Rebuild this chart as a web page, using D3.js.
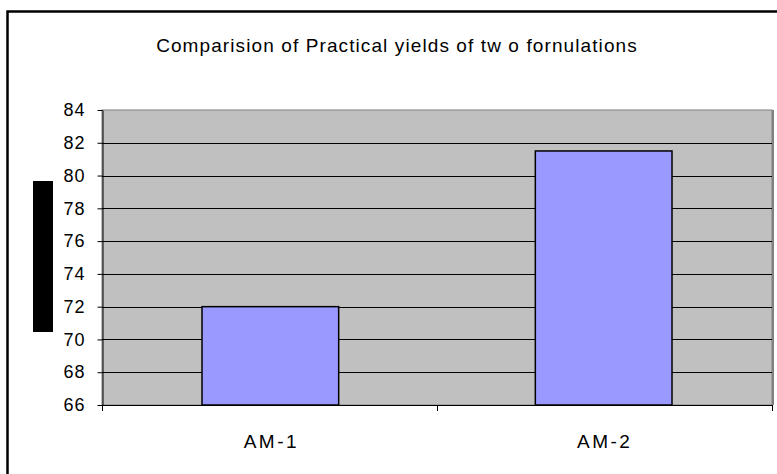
<!DOCTYPE html>
<html>
<head>
<meta charset="utf-8">
<script src="https://cdn.jsdelivr.net/npm/d3@7"></script>
<style>
  html, body { margin: 0; background: #fff; overflow: hidden; }
  svg { display: block; }
  text { font-family: "Liberation Sans", Arial, sans-serif; fill: #000; }
</style>
</head>
<body>
<svg id="chart" width="777" height="474"></svg>
<script>
// Practical yield (%) of the two formulations
const categories = ["AM-1", "AM-2"];
const yields = [72, 81.5];
const yTicks = [66, 68, 70, 72, 74, 76, 78, 80, 82, 84];
const chartTitle = "Comparision of Practical yields of tw o fornulations";

const svg = d3.select("#chart");
const plot = { left: 102, right: 772, top: 110, bottom: 405 };

// chart frame: left and top edges (the rest lies outside the page)
svg.append("path")
  .attr("d", "M7.5,474 L7.5,11.5 L777,11.5")
  .attr("fill", "none").attr("stroke", "#000").attr("stroke-width", 2.5);

const x = d3.scaleBand()
  .domain(categories)
  .range([plot.left, plot.right])
  .paddingInner(0.59)
  .paddingOuter(0.3);

const y = d3.scaleLinear()
  .domain([yTicks[0], yTicks[yTicks.length - 1]])
  .range([plot.bottom, plot.top]);

// plot area background
svg.append("rect")
  .attr("x", plot.left).attr("y", plot.top)
  .attr("width", plot.right - plot.left).attr("height", plot.bottom - plot.top)
  .attr("fill", "#c0c0c0").attr("stroke", "#808080").attr("stroke-width", 1);

// horizontal gridlines
svg.append("g")
  .selectAll("line")
  .data(yTicks.slice(1, -1))
  .join("line")
  .attr("x1", plot.left).attr("x2", plot.right)
  .attr("y1", d => Math.round(y(d)) + 0.5).attr("y2", d => Math.round(y(d)) + 0.5)
  .attr("stroke", "#000").attr("stroke-width", 1);

// right edge shading of plot area
svg.append("line")
  .attr("x1", plot.right + 1).attr("x2", plot.right + 1)
  .attr("y1", plot.top).attr("y2", plot.bottom)
  .attr("stroke", "#808080").attr("stroke-width", 2);

// bars
svg.append("g")
  .selectAll("rect")
  .data(categories.map((c, i) => ({ c, v: yields[i] })))
  .join("rect")
  .attr("x", d => x(d.c))
  .attr("y", d => y(d.v))
  .attr("width", x.bandwidth())
  .attr("height", d => y(yTicks[0]) - y(d.v))
  .attr("fill", "#9999ff")
  .attr("stroke", "#000")
  .attr("stroke-width", 1.5);

// y axis
const yAxis = svg.append("g")
  .attr("transform", `translate(${plot.left + 0.5},0)`)
  .call(d3.axisLeft(y).tickValues(yTicks).tickSize(5).tickPadding(12).tickSizeOuter(0));
yAxis.select(".domain").attr("stroke", "#000");
yAxis.selectAll(".tick line").attr("stroke", "#000");
yAxis.selectAll(".tick text")
  .attr("font-size", 18)
  .attr("letter-spacing", 1)
  .style("font-family", '"Liberation Sans", Arial, sans-serif')
  .attr("fill", "#000");

// x axis line with category boundary ticks
svg.append("line")
  .attr("x1", plot.left).attr("x2", plot.right + 1)
  .attr("y1", plot.bottom + 0.5).attr("y2", plot.bottom + 0.5)
  .attr("stroke", "#000").attr("stroke-width", 1.2);
const boundaries = d3.range(categories.length + 1).map(i => plot.left + i * (plot.right - plot.left) / categories.length);
svg.append("g")
  .selectAll("line")
  .data(boundaries)
  .join("line")
  .attr("x1", d => Math.round(d) + 0.5).attr("x2", d => Math.round(d) + 0.5)
  .attr("y1", plot.bottom).attr("y2", plot.bottom + 6)
  .attr("stroke", "#000");

// category labels
svg.append("g")
  .selectAll("text")
  .data(categories)
  .join("text")
  .attr("x", d => x(d) + x.bandwidth() / 2 + 1)
  .attr("y", 448)
  .attr("text-anchor", "middle")
  .attr("font-size", 19)
  .attr("letter-spacing", 2.5)
  .text(d => d);

// axis title block
svg.append("rect")
  .attr("x", 33).attr("y", 181)
  .attr("width", 20).attr("height", 151)
  .attr("fill", "#000");

// chart title
svg.append("text")
  .attr("x", 397).attr("y", 52)
  .attr("text-anchor", "middle")
  .attr("font-size", 19)
  .attr("letter-spacing", 1.1)
  .text(chartTitle);
</script>
</body>
</html>
